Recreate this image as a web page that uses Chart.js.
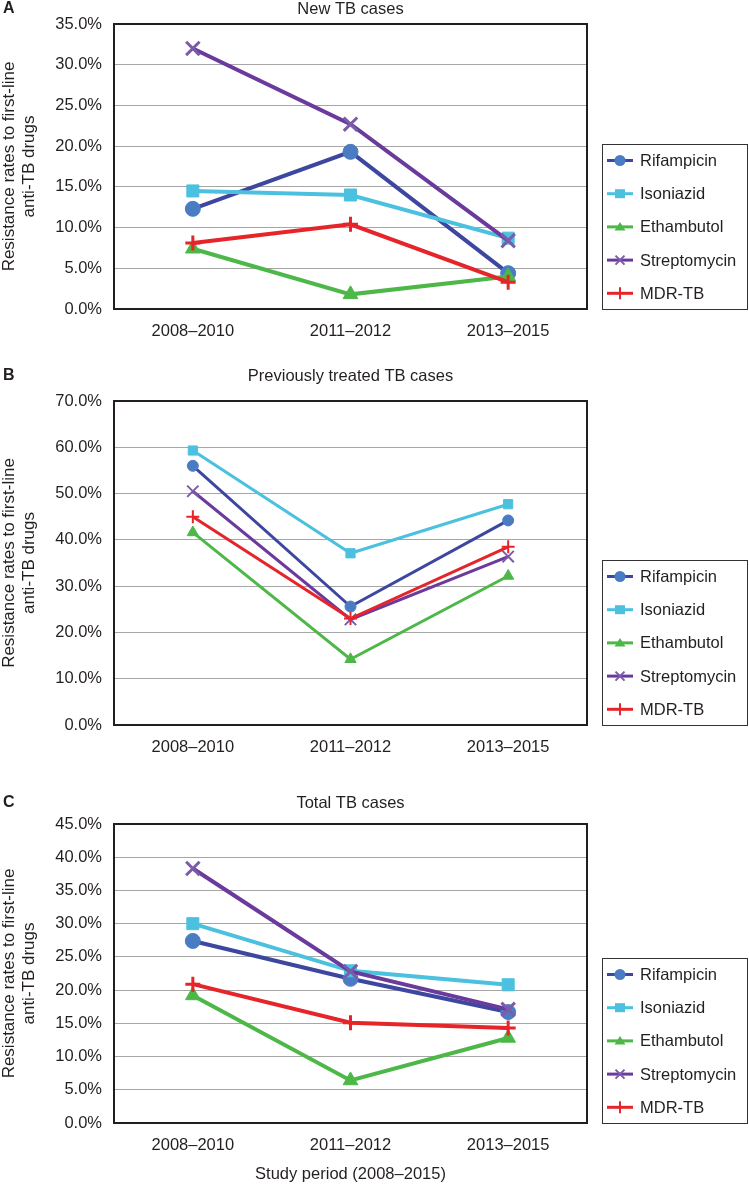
<!DOCTYPE html>
<html>
<head>
<meta charset="utf-8">
<script src="https://cdn.jsdelivr.net/npm/chart.js@4.4.1/dist/chart.umd.min.js"></script>
<style>
  body { margin: 0; background: #fff; }
  canvas { position: absolute; left: 0; }
</style>
</head>
<body>
<canvas id="chartA" width="749" height="360" style="top:0px"></canvas>
<canvas id="chartB" width="749" height="400" style="top:360px"></canvas>
<canvas id="chartC" width="749" height="424" style="top:760px"></canvas>
<script>
const periods = ['2008–2010', '2011–2012', '2013–2015'];
const drugs = ['Rifampicin', 'Isoniazid', 'Ethambutol', 'Streptomycin', 'MDR-TB'];
const yTitle = ['Resistance rates to first-line', 'anti-TB drugs'];

// A - new TB cases (%)
const newRifampicin = [12.3, 19.3, 4.4];
const newIsoniazid = [14.5, 14.0, 8.7];
const newEthambutol = [7.4, 1.8, 4.0];
const newStreptomycin = [32.0, 22.7, 8.4];
const newMdr = [8.1, 10.4, 3.3];

// B - previously treated TB cases (%)
const prevRifampicin = [56.0, 25.6, 44.2];
const prevIsoniazid = [59.3, 37.1, 47.7];
const prevEthambutol = [41.6, 14.2, 32.2];
const prevStreptomycin = [50.5, 22.8, 36.4];
const prevMdr = [45.0, 23.0, 38.5];

// C - total TB cases (%)
const totalRifampicin = [27.4, 21.7, 16.7];
const totalIsoniazid = [30.0, 22.9, 20.8];
const totalEthambutol = [19.2, 6.4, 12.8];
const totalStreptomycin = [38.3, 22.8, 17.1];
const totalMdr = [20.9, 15.1, 14.3];

const lineColors = ['#3d47a0', '#4bc1df', '#4db848', '#6a3a9c', '#e5252a'];
const markerColors = ['#4a7cc4', '#4bc1df', '#4db848', '#7b5caa', '#e5252a'];
const markerStyles = ['circle', 'rect', 'triangle', 'crossRot', 'cross'];

const FONT = "'Liberation Sans', Arial, sans-serif";
const TEXT = '#231f20';
Chart.defaults.font.family = FONT;
Chart.defaults.font.size = 16.5;
Chart.defaults.color = TEXT;

// small legend marker, drawn by hand
function drawMarker(ctx, style, x, y, color) {
  ctx.fillStyle = color;
  ctx.strokeStyle = color;
  ctx.beginPath();
  if (style === 'circle') {
    ctx.arc(x, y, 5.5, 0, Math.PI * 2);
    ctx.fill();
  } else if (style === 'rect') {
    ctx.fillRect(x - 5, y - 4.5, 10, 9);
  } else if (style === 'triangle') {
    ctx.moveTo(x - 5.5, y + 3.5);
    ctx.lineTo(x + 5.5, y + 3.5);
    ctx.lineTo(x, y - 5);
    ctx.closePath();
    ctx.fill();
  } else if (style === 'crossRot') {
    ctx.lineWidth = 2;
    ctx.moveTo(x - 4.5, y - 4.5); ctx.lineTo(x + 4.5, y + 4.5);
    ctx.moveTo(x - 4.5, y + 4.5); ctx.lineTo(x + 4.5, y - 4.5);
    ctx.stroke();
  } else {
    ctx.lineWidth = 2;
    ctx.moveTo(x, y - 6); ctx.lineTo(x, y + 6);
    ctx.stroke();
  }
}

const panelDecor = {
  id: 'panelDecor',
  afterDraw(chart, args, opts) {
    const { ctx, chartArea: a } = chart;
    ctx.save();
    // plot frame
    ctx.strokeStyle = TEXT;
    ctx.lineWidth = 2;
    ctx.strokeRect(a.left, a.top, a.right - a.left, a.bottom - a.top);

    // letter and title
    ctx.fillStyle = TEXT;
    ctx.textBaseline = 'middle';
    ctx.textAlign = 'left';
    ctx.font = 'bold 16px ' + FONT;
    ctx.fillText(opts.letter, 3, opts.titleY);
    ctx.font = '16.5px ' + FONT;
    ctx.textAlign = 'center';
    ctx.fillText(opts.title, (a.left + a.right) / 2, opts.titleY);

    // legend box
    const bx = a.right + 15, bw = chart.width - 2 - bx, bh = 165, by = a.bottom - bh;
    ctx.lineWidth = 1;
    ctx.strokeStyle = '#333';
    ctx.strokeRect(bx + 0.5, by + 0.5, bw, bh);
    chart.data.datasets.forEach((ds, i) => {
      const y = by + 16.5 + i * 33.2;
      ctx.strokeStyle = ds.borderColor;
      ctx.lineWidth = 3;
      ctx.beginPath();
      ctx.moveTo(bx + 5, y);
      ctx.lineTo(bx + 31, y);
      ctx.stroke();
      drawMarker(ctx, markerStyles[i], bx + 18, y, markerColors[i]);
      ctx.fillStyle = TEXT;
      ctx.textAlign = 'left';
      ctx.font = '16.5px ' + FONT;
      ctx.fillText(ds.label, bx + 38, y + 1);
    });
    ctx.restore();
  }
};

function makePanel(id, letter, title, titleY, series, yMax, yStep, look) {
  const datasets = series.map((vals, i) => ({
    label: drugs[i],
    data: vals,
    borderColor: lineColors[i],
    backgroundColor: markerColors[i],
    pointBackgroundColor: markerColors[i],
    pointBorderColor: markerColors[i],
    pointStyle: markerStyles[i],
    pointRadius: look.radius[i],
    pointBorderWidth: look.markerWidth[i],
    borderWidth: look.line,
    tension: 0,
    order: drugs.length - i
  }));

  return new Chart(document.getElementById(id), {
    type: 'line',
    data: { labels: periods, datasets: datasets },
    options: {
      responsive: false,
      animation: false,
      events: [],
      layout: { padding: { top: look.top, right: 162, bottom: 0, left: 0 } },
      plugins: {
        legend: { display: false },
        tooltip: { enabled: false },
        panelDecor: { letter: letter, title: title, titleY: titleY }
      },
      scales: {
        x: {
          offset: true,
          grid: { display: false, drawTicks: false },
          border: { display: false },
          ticks: { padding: 13, font: { size: 16.5 } },
          title: {
            display: !!look.xTitle,
            text: look.xTitle || '',
            font: { size: 16.5 },
            padding: 0
          },
          afterFit: s => { s.height = look.xHeight; }
        },
        y: {
          min: 0,
          max: yMax,
          ticks: { stepSize: yStep, padding: 12, callback: v => v.toFixed(1) + '%' },
          grid: { color: '#a6a6a6', drawTicks: false, lineWidth: 1 },
          border: { display: false },
          title: { display: true, text: yTitle, font: { size: 17, lineHeight: 1.15 }, padding: 0 },
          afterFit: s => { s.width = 114; }
        }
      }
    },
    plugins: [panelDecor]
  });
}

const bigLook = {
  radius: [7.5, 8.5, 8.5, 9.5, 7.5],
  markerWidth: [1, 1, 1, 3, 3],
  line: 4
};

makePanel('chartA', 'A', 'New TB cases', 9,
  [newRifampicin, newIsoniazid, newEthambutol, newStreptomycin, newMdr], 35, 5,
  Object.assign({ top: 24, xHeight: 51 }, bigLook));

makePanel('chartB', 'B', 'Previously treated TB cases', 16,
  [prevRifampicin, prevIsoniazid, prevEthambutol, prevStreptomycin, prevMdr], 70, 10,
  { top: 41, xHeight: 35, radius: [5.5, 6.5, 6.5, 8, 6.5], markerWidth: [1, 1, 1, 2, 2], line: 3 });

makePanel('chartC', 'C', 'Total TB cases', 43,
  [totalRifampicin, totalIsoniazid, totalEthambutol, totalStreptomycin, totalMdr], 45, 5,
  Object.assign({ top: 64, xHeight: 61, xTitle: 'Study period (2008–2015)' }, bigLook));
</script>
</body>
</html>
